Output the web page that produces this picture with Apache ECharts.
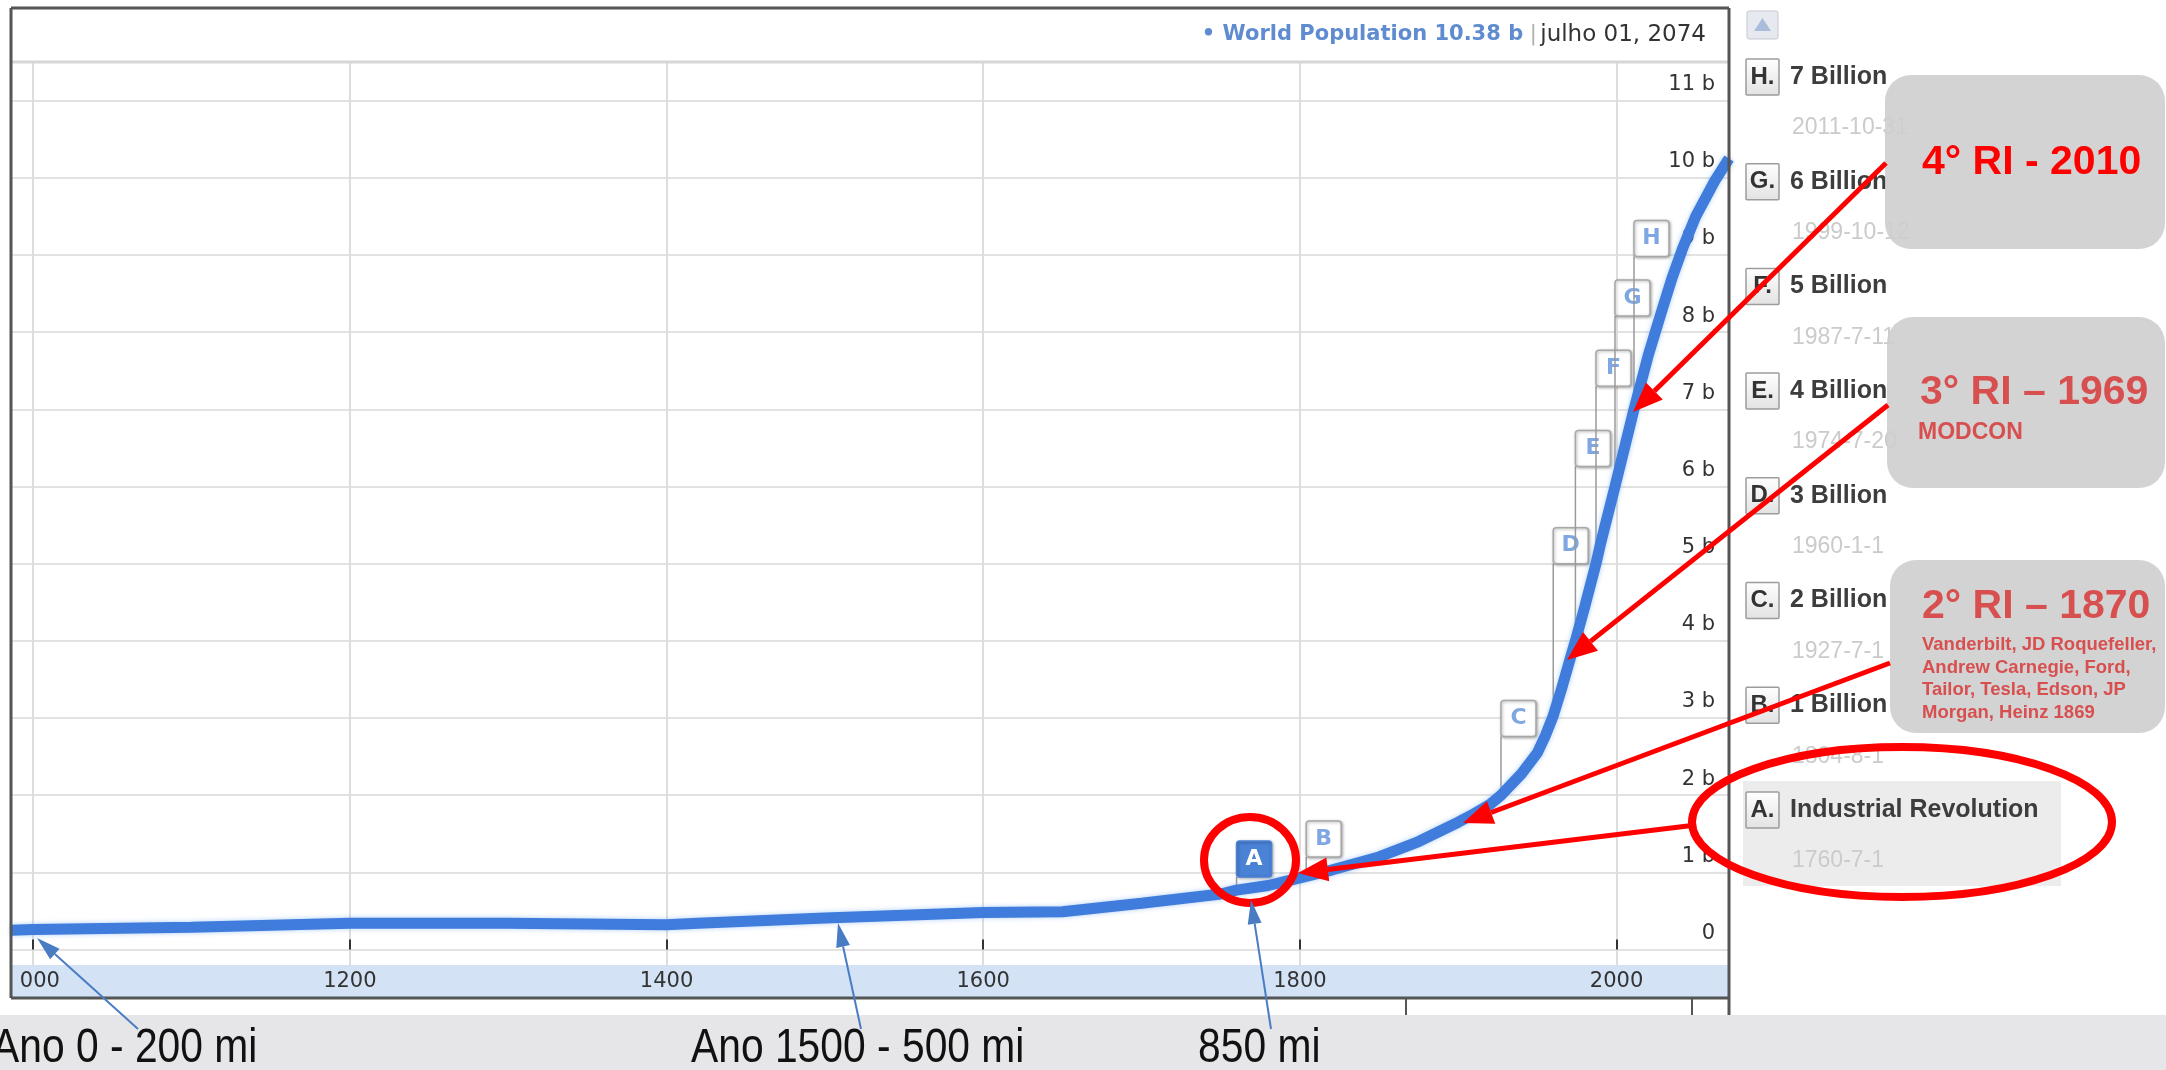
<!DOCTYPE html>
<html><head><meta charset="utf-8">
<script src="https://cdn.jsdelivr.net/npm/echarts@6/dist/echarts.min.js"></script>
<style>html,body{margin:0;padding:0;background:#fff}#c{width:2166px;height:1070px}</style>
</head><body><div id="c"></div>
<script>
// ---- data ----
const years = [986,1000,1100,1200,1300,1400,1420,1500,1600,1650,1700,1750,1760,1780,1800,1820,1850,1875,1900,1910,1920,1927,1940,1950,1955,1960,1965,1970,1974,1980,1987,1990,1999,2005,2011,2020,2028,2035,2042,2050,2062,2071];
const population = [0.25,0.26,0.29,0.34,0.34,0.32,0.34,0.41,0.48,0.49,0.60,0.72,0.77,0.83,0.93,1.03,1.20,1.40,1.65,1.76,1.88,2.00,2.28,2.55,2.77,3.03,3.36,3.72,4.00,4.45,5.00,5.27,6.00,6.50,7.00,7.70,8.24,8.70,9.10,9.50,9.96,10.25];
const flagLetters = ['A','B','C','D','E','F','G','H'];
const flagYears   = [1760,1804,1927,1960,1974,1987,1999,2011];
const flagValues  = [0.77,1.0,2.0,3.0,4.0,5.0,6.0,7.0];
const flagLevels  = [0.94,1.2,2.76,5.0,6.26,7.3,8.21,8.98];
const panelTitles = ['Industrial Revolution','1 Billion','2 Billion','3 Billion','4 Billion','5 Billion','6 Billion','7 Billion'];
const panelDates  = ['1760-7-1','1804-8-1','1927-7-1','1960-1-1','1974-7-20','1987-7-11','1999-10-12','2011-10-31'];
const xTicks = [1000,1200,1400,1600,1800,2000];
const yTicks = [0,1,2,3,4,5,6,7,8,9,10,11];
const headerSeries = '• World Population 10.38 b';
const headerDate = 'julho 01, 2074';
const bottomNotes = ['Ano 0 - 200 mi','Ano 1500 - 500 mi','850 mi'];

// ---- chart ----
const chart = echarts.init(document.getElementById('c'));
const SANS = '"Liberation Sans", Arial, sans-serif';
const DV = '"DejaVu Sans", Verdana, sans-serif';

function arrow(x1,y1,x2,y2,color,w,hl,hw){
  const a = Math.atan2(y2-y1,x2-x1);
  const bx = x2-hl*Math.cos(a), by = y2-hl*Math.sin(a);
  const px = -Math.sin(a)*hw/2, py = Math.cos(a)*hw/2;
  return [
    {type:'line', z:200, shape:{x1:x1,y1:y1,x2:bx,y2:by}, style:{stroke:color,lineWidth:w}},
    {type:'polygon', z:200, shape:{points:[[x2,y2],[bx+px,by+py],[bx-px,by-py]]}, style:{fill:color}}
  ];
}

const g = [];
// bottom grey band
g.push({type:'rect', z:-5, shape:{x:0,y:1015,width:2166,height:55}, style:{fill:'#e6e6e8'}});
// x-axis band
g.push({type:'rect', z:-1, shape:{x:11,y:965,width:1718,height:33}, style:{fill:'#d3e2f5'}});
// cover left of frame (clips the "1" of 1000)
g.push({type:'rect', z:50, shape:{x:0,y:955,width:11,height:45}, style:{fill:'#fff'}});
g.push({type:'rect', z:50, shape:{x:11,y:966,width:8,height:31}, style:{fill:'#d3e2f5'}});
// header separator
g.push({type:'line', z:5, shape:{x1:11,y1:62,x2:1729,y2:62}, style:{stroke:'#d6d6d6',lineWidth:3}});
// frame
const fr = {stroke:'#555', lineWidth:3};
g.push({type:'line', z:60, shape:{x1:11,y1:8,x2:1729,y2:8}, style:fr});
g.push({type:'line', z:60, shape:{x1:11,y1:8,x2:11,y2:998}, style:fr});
g.push({type:'line', z:60, shape:{x1:1729,y1:8,x2:1729,y2:1015}, style:fr});
g.push({type:'line', z:60, shape:{x1:11,y1:998,x2:1729,y2:998}, style:fr});
g.push({type:'line', z:60, shape:{x1:1406,y1:998,x2:1406,y2:1015}, style:{stroke:'#555',lineWidth:2}});
g.push({type:'line', z:60, shape:{x1:1692,y1:998,x2:1692,y2:1015}, style:{stroke:'#555',lineWidth:2}});
// header text
g.push({type:'text', z:10, style:{
  text:'{a|'+headerSeries+'}  {s||} {b|'+headerDate+'}', x:1706, y:35, align:'right', verticalAlign:'middle',
  rich:{a:{fill:'#5f8bd0', font:'bold 21px '+DV}, s:{fill:'#b0b0b0', font:'21px '+DV}, b:{fill:'#333', font:'23px '+DV}}
}});
// scroll button
g.push({type:'rect', z:10, shape:{x:1747,y:11,width:31,height:28,r:2}, style:{fill:'#e6eaf0',stroke:'#c4c8cf',lineWidth:1}});
g.push({type:'polygon', z:11, shape:{points:[[1762.5,18],[1754,31],[1771,31]]}, style:{fill:'#a9bcd9'}});
// panel
g.push({type:'rect', z:1, shape:{x:1743,y:781,width:318,height:105}, style:{fill:'#ececec'}});
for (let i=0;i<8;i++){
  const r = 7-i;
  const ty = 77 + r*104.7;
  g.push({type:'rect', z:5, shape:{x:1746,y:ty-18,width:33,height:36,r:1},
    style:{fill:new echarts.graphic.LinearGradient(0,0,0,1,[{offset:0,color:'#ffffff'},{offset:1,color:'#e2e2e2'}]), stroke:'#9c9c9c', lineWidth:1.5}});
  g.push({type:'text', z:6, style:{text:flagLetters[i]+'.', x:1762.5, y:ty, align:'center', verticalAlign:'middle', fill:'#333', font:'bold 24px '+SANS}});
  g.push({type:'text', z:6, style:{text:panelTitles[i], x:1790, y:ty, verticalAlign:'middle', fill:'#3d3d3d', font:'bold 25px '+SANS}});
  g.push({type:'text', z:6, style:{text:panelDates[i], x:1792, y:ty+51, verticalAlign:'middle', fill:'#cbcbcb', font:'23px '+SANS}});
}
// callouts
const box = {fill:'rgba(206,206,206,0.9)'};
g.push({type:'rect', z:100, shape:{x:1885,y:75,width:280,height:174,r:26}, style:box});
g.push({type:'rect', z:100, shape:{x:1887,y:317,width:278,height:171,r:26}, style:box});
g.push({type:'rect', z:100, shape:{x:1890,y:560,width:275,height:173,r:26}, style:box});
g.push({type:'text', z:101, style:{text:'4° RI - 2010', x:1922, y:163, verticalAlign:'middle', fill:'#ff0000', font:'bold 41px '+SANS}});
g.push({type:'text', z:101, style:{text:'3° RI – 1969', x:1920, y:393, verticalAlign:'middle', fill:'#d84f4f', font:'bold 41px '+SANS}});
g.push({type:'text', z:101, style:{text:'MODCON', x:1918, y:433, verticalAlign:'middle', fill:'#d84f4f', font:'bold 23px '+SANS}});
g.push({type:'text', z:101, style:{text:'2° RI – 1870', x:1922, y:607, verticalAlign:'middle', fill:'#d84f4f', font:'bold 41px '+SANS}});
const names = ['Vanderbilt, JD Roquefeller,','Andrew Carnegie, Ford,','Tailor, Tesla, Edson, JP','Morgan, Heinz 1869'];
names.forEach((t,k)=>g.push({type:'text', z:101, style:{text:t, x:1922, y:645+k*22.5, verticalAlign:'middle', fill:'#d84f4f', font:'bold 18.5px '+SANS}}));
// red ellipse + circle
g.push({type:'ellipse', z:200, shape:{cx:1902,cy:822,rx:210,ry:75}, style:{fill:'none',stroke:'#ff0000',lineWidth:8}});
g.push({type:'ellipse', z:200, shape:{cx:1250,cy:860,rx:46,ry:43}, style:{fill:'none',stroke:'#ff0000',lineWidth:8}});
// red arrows
g.push(...arrow(1886,163,1633,412,'#ff0000',5,30,24));
g.push(...arrow(1888,405,1567,660,'#ff0000',5,30,24));
g.push(...arrow(1890,663,1463,823,'#ff0000',5,30,24));
g.push(...arrow(1696,825,1298,873,'#ff0000',5,30,24));
// blue arrows
g.push(...arrow(138,1029,37,938,'#4a7cc4',2,24,14));
g.push(...arrow(861,1029,838,923,'#4a7cc4',2,24,14));
g.push(...arrow(1271,1029,1251,900,'#4a7cc4',2,24,14));
// bottom notes (narrow face)
const noteX = [-8, 691, 1198];
bottomNotes.forEach((t,k)=>g.push({type:'text', z:150, x:noteX[k], y:1049, scaleX:0.85,
  style:{text:t, x:0, y:0, verticalAlign:'middle', fill:'#111', font:'48px '+SANS}}));

chart.setOption({
  animation:false,
  backgroundColor:'#fff',
  grid:{left:11, right:437, top:62, bottom:105, containLabel:false},
  xAxis:{type:'value', min:986, max:2071,
    axisLine:{show:false},
    axisTick:{show:true, inside:true, length:10, customValues:xTicks, lineStyle:{color:'#333',width:2}},
    axisLabel:{customValues:xTicks, margin:6, color:'#333', fontFamily:'DejaVu Sans', fontSize:21, formatter:v=>String(v)},
    splitLine:{show:true, lineStyle:{color:'#dddddd',width:2}}},
  yAxis:{type:'value', position:'right', min:-0.2, max:11.5,
    axisLine:{show:false},
    axisTick:{show:false, customValues:yTicks},
    axisLabel:{customValues:yTicks, inside:true, margin:14, color:'#333', fontFamily:'DejaVu Sans', fontSize:21,
      verticalAlign:'bottom', lineHeight:22, padding:[0,0,5,0], formatter:v=>v===0?'0':v+' b'},
    splitLine:{show:true, lineStyle:{color:'#e2e2e2',width:2}}},
  series:[
    {type:'line', z:3, data:years.map((y,i)=>[y,population[i]]), showSymbol:false, symbol:'none',
      lineStyle:{color:'#3f7cdb', width:11, shadowColor:'rgba(110,165,240,0.55)', shadowBlur:5}},
    {type:'custom', z:2, encode:{x:0,y:1},
      data:flagYears.map((y,i)=>[y,flagValues[i],flagLevels[i]]),
      renderItem:function(params, api){
        const i = params.dataIndex;
        const p = api.coord([api.value(0), api.value(1)]);
        const t = api.coord([api.value(0), api.value(2)]);
        const w = 35, h = 36, isA = i===0;
        return {type:'group', children:[
          {type:'line', shape:{x1:p[0],y1:p[1],x2:p[0],y2:t[1]}, style:{stroke:'#9a9a9a',lineWidth:1.5}},
          {type:'rect', shape:{x:t[0],y:t[1]-h,width:w,height:h,r:3},
            style:{fill:isA?'#4a82d6':'#ffffff', stroke:isA?'#4a82d6':'#a8a8a8', lineWidth:1.5,
              shadowBlur:3, shadowColor:'rgba(0,0,0,0.3)', shadowOffsetX:1, shadowOffsetY:1}},
          {type:'text', style:{text:flagLetters[i], x:t[0]+w/2, y:t[1]-h/2, align:'center', verticalAlign:'middle',
            fill:isA?'#ffffff':'#7fa7e2', font:'bold 22px "DejaVu Sans", sans-serif'}}
        ]};
      }}
  ],
  graphic:g
});
</script>
</body></html>
